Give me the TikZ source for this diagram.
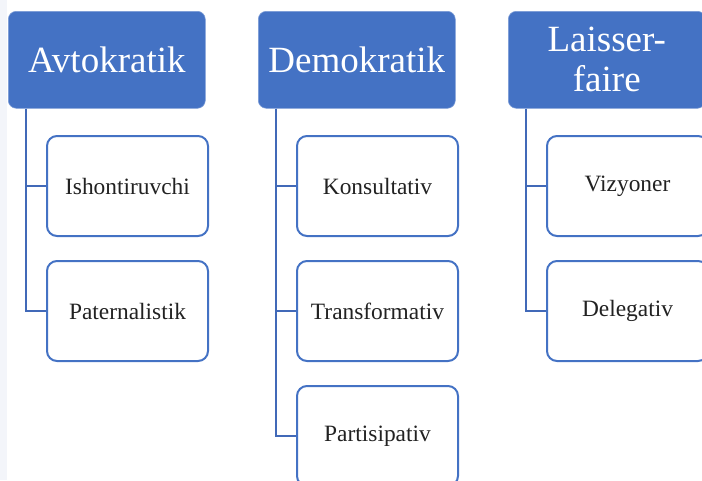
\documentclass[tikz,border=0pt]{standalone}
\usepackage{fontspec}
\newfontfamily\diagfont{Liberation Serif}
\definecolor{headblue}{HTML}{4472C4}
\definecolor{linkblue}{HTML}{4169B8}
\definecolor{textgray}{HTML}{222222}
\definecolor{edgestrip}{HTML}{F3F5FA}
\tikzset{
  head/.style={anchor=north west, fill=headblue, draw=headblue!70!white, line width=0.6pt,
    rounded corners=8pt, minimum width=197pt, minimum height=97pt, inner sep=2pt,
    text=white, align=center, font=\diagfont\fontsize{37}{40}\selectfont},
  leaf/.style={anchor=north west, fill=white, draw=headblue, line width=2pt,
    rounded corners=10pt, minimum width=161pt, minimum height=100pt, inner sep=2pt,
    text=textgray, align=center, font=\diagfont\fontsize{23.4}{27}\selectfont},
  link/.style={draw=linkblue, line width=2pt},
}
\begin{document}
\begin{tikzpicture}[x=1pt,y=-1pt]
  \useasboundingbox (0,0) rectangle (702,480);
  \clip (0,0) rectangle (702,480);
  \fill[edgestrip] (0,0) rectangle (7,480);

  % column headers
  \node[head] (h1) at (8,11) {Avtokratik};
  \node[head] (h2) at (258,11) {Demokratik};
  \node[head] (h3) at (508,11) {Laisser-\\faire};

  % trunk points under each header
  \coordinate (t1) at ([xshift=18pt]h1.south west);
  \coordinate (t2) at ([xshift=18pt]h2.south west);
  \coordinate (t3) at ([xshift=18pt]h3.south west);

  % sub-style boxes
  \node[leaf] (a1) at (46,135) {Ishontiruvchi};
  \node[leaf] (a2) at (46,260) {Paternalistik};
  \node[leaf] (d1) at (296,135) {Konsultativ};
  \node[leaf] (d2) at (296,260) {Transformativ};
  \node[leaf] (d3) at (296,385) {Partisipativ};
  \node[leaf] (l1) at (546,135) {Vizyoner};
  \node[leaf] (l2) at (546,260) {Delegativ};

  % connectors
  \draw[link] (t1) |- (a1.west);
  \draw[link] (t1) |- (a2.west);
  \draw[link] (t2) |- (d1.west);
  \draw[link] (t2) |- (d2.west);
  \draw[link] (t2) |- (d3.west);
  \draw[link] (t3) |- (l1.west);
  \draw[link] (t3) |- (l2.west);
\end{tikzpicture}
\end{document}
